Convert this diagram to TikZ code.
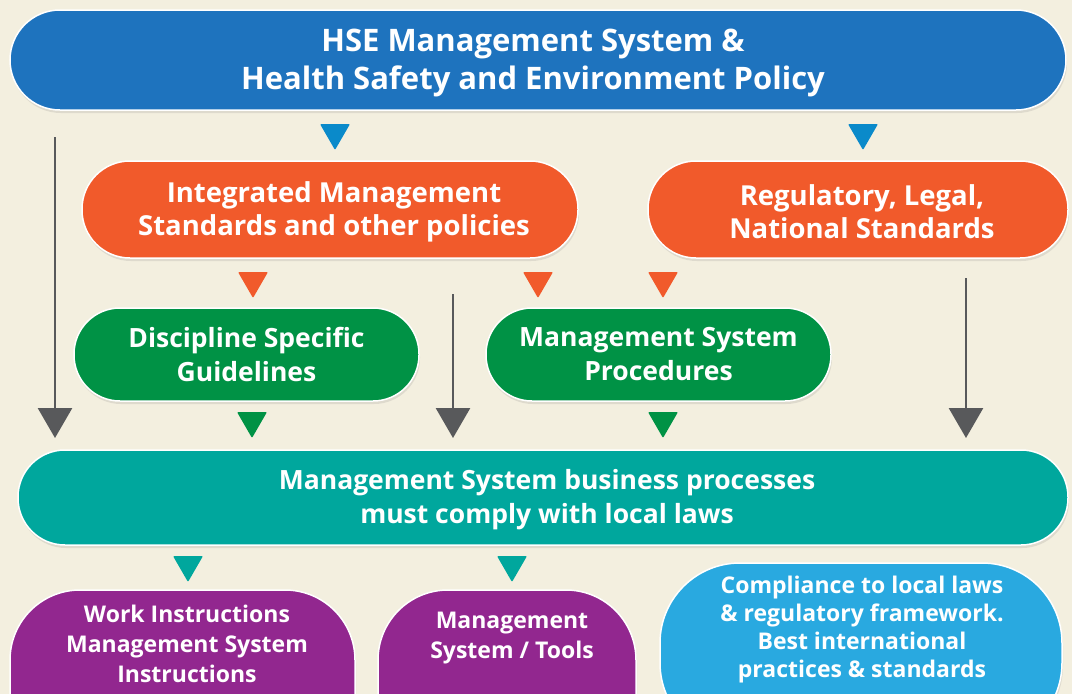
\documentclass[tikz,border=0pt]{standalone}
\usepackage{fontspec}
\setmainfont{Open Sans}
\usetikzlibrary{arrows.meta,shadows}

\definecolor{paper}{HTML}{F3EFDF}
\definecolor{hseblue}{HTML}{1E73BE}
\definecolor{triblue}{HTML}{0A8ACA}
\definecolor{hseorange}{HTML}{F15A2B}
\definecolor{hsegreen}{HTML}{009245}
\definecolor{hseteal}{HTML}{00A79D}
\definecolor{hsepurple}{HTML}{92278F}
\definecolor{hsesky}{HTML}{29A9E0}
\definecolor{arrowgray}{HTML}{58595B}

% small filled arrowhead between two boxes
\newcommand\trimark[3]{\fill[#3, rounded corners=1pt] (#1-15,#2) -- (#1+15,#2) -- (#1,#2+26) -- cycle;}

\begin{document}
\begin{tikzpicture}[x=1pt,y=-1pt,
    pill/.style={draw=white, line width=1.5pt, text=white, align=center,
      drop shadow={opacity=0.18, shadow xshift=1pt, shadow yshift=-3pt}},
    lbl/.style={text=white, align=center},
    grayarrow/.style={arrowgray, line width=2.8pt, -{Triangle[width=34pt,length=30pt]}}]
    \clip (0,0) rectangle (1072,694);
    \fill[paper] (0,0) rectangle (1072,694);

    \node[pill, fill=hseblue, minimum width=1056pt, minimum height=100pt, rounded corners=50pt] (hse) at (538,60) {};
    \node[lbl, font=\bfseries\fontsize{31}{38}\selectfont] (hse-text) at (533,63)
      {HSE Management System \&\\Health Safety and Environment Policy};

    \node[pill, fill=hseorange, minimum width=496pt, minimum height=97pt, rounded corners=48pt,
      font=\bfseries\fontsize{27.5}{33}\selectfont] (ims) at (330,209.5) {};
    \node[lbl, font=\bfseries\fontsize{27.5}{33}\selectfont] (ims-text) at (334,212)
      {Integrated Management\\Standards and other policies};
    \node[pill, fill=hseorange, minimum width=420pt, minimum height=97pt, rounded corners=48pt] (reg) at (858,209.5) {};
    \node[lbl, font=\bfseries\fontsize{27.5}{33}\selectfont] (reg-text) at (862,212)
      {Regulatory, Legal,\\National Standards};

    \node[pill, fill=hsegreen, minimum width=345pt, minimum height=93pt, rounded corners=46pt,
      font=\bfseries\fontsize{26.5}{34}\selectfont] (dsg) at (246.5,354.5)
      {Discipline Specific\\Guidelines};
    \node[pill, fill=hsegreen, minimum width=345pt, minimum height=93pt, rounded corners=46pt,
      font=\bfseries\fontsize{26.5}{34}\selectfont] (msp) at (658.5,354.5)
      {Management System\\Procedures};

    \node[pill, fill=hseteal, minimum width=1050pt, minimum height=95pt, rounded corners=47pt] (msb) at (543,497.5) {};
    \node[lbl, font=\bfseries\fontsize{26.5}{34}\selectfont] (msb-text) at (547,500)
      {Management System business processes\\must comply with local laws};

    \node[pill, fill=hsepurple, minimum width=345pt, minimum height=180pt, rounded corners=70pt] (wi) at (182.5,680) {};
    \node[pill, fill=hsepurple, minimum width=258pt, minimum height=180pt, rounded corners=70pt] (mst) at (507,680) {};
    \node[pill, fill=hsesky, minimum width=402pt, minimum height=180pt, rounded corners=80pt] (clr) at (861,653) {};
    \node[lbl, font=\bfseries\fontsize{23}{30}\selectfont] (wi-text) at (187,644)
      {Work Instructions\\Management System\\Instructions};
    \node[lbl, font=\bfseries\fontsize{23}{30}\selectfont] (mst-text) at (512,638)
      {Management\\System / Tools};
    \node[lbl, font=\bfseries\fontsize{23}{28}\selectfont] (clr-text) at (862,630)
      {Compliance to local laws\\\& regulatory framework.\\Best international\\practices \& standards};

    % arrowheads between the boxes
    \trimark{335}{124}{triblue}
    \trimark{863}{124}{triblue}
    \trimark{253}{272}{hseorange}
    \trimark{538}{272}{hseorange}
    \trimark{663}{272}{hseorange}
    \trimark{252}{412}{hsegreen}
    \trimark{663}{412}{hsegreen}
    \trimark{188}{556}{hseteal}
    \trimark{512}{556}{hseteal}

    % long gray arrows
    \coordinate (g1) at (55,137);
    \coordinate (g2) at (453,294);
    \coordinate (g3) at (966,278);
    \draw[grayarrow] (g1) -- (g1 |- 0,438);
    \draw[grayarrow] (g2) -- (g2 |- 0,438);
    \draw[grayarrow] (g3) -- (g3 |- 0,438);
\end{tikzpicture}
\end{document}
